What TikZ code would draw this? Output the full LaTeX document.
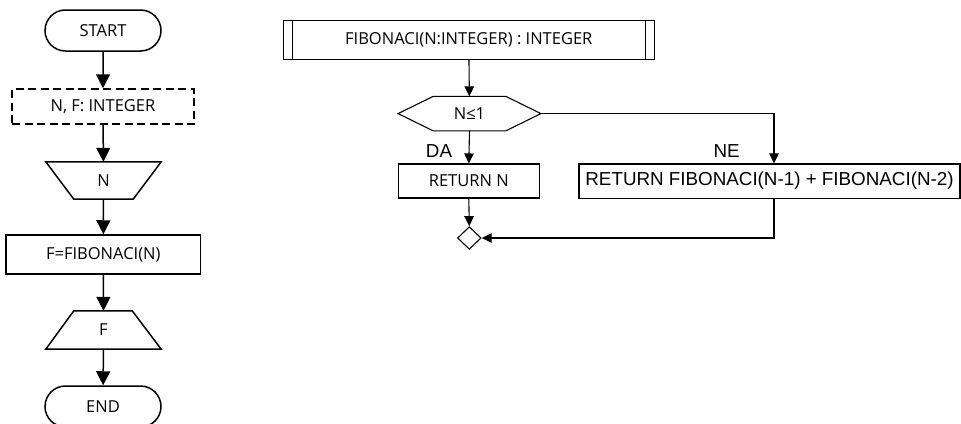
\documentclass[tikz,border=0pt]{standalone}
\usepackage{fontspec}
\setmainfont{Open Sans}
\newfontfamily\arialfont{Liberation Sans}
\usetikzlibrary{shapes.misc,shapes.geometric,arrows.meta,calc}

\begin{document}
\begin{tikzpicture}[x=1pt,y=-1pt,
  every node/.style={font=\fontsize{16.5}{18}\selectfont, inner sep=0pt},
  lline/.style={line width=1.5pt},
  rline/.style={line width=1.1pt},
  larrow/.style={lline, -{Triangle[length=14pt,width=14pt]}},
  rarrow/.style={rline, -{Triangle[length=10pt,width=9.5pt]}},
  terminal/.style={rounded rectangle, draw, lline, minimum width=116pt, minimum height=41pt},
  procbox/.style={rectangle, draw},
  ghost/.style={rectangle, draw=none},
  arial/.style={font=\arialfont\fontsize{18.8}{20}\selectfont},
]
\useasboundingbox (0,0) rectangle (961,423);

% ---- main program ----
\node[terminal] (start) at (103,30.5) {START};
\node[procbox, lline, dash pattern=on 8pt off 4.5pt, minimum width=182pt, minimum height=35pt] (decl) at (103,106.5) {N, F: INTEGER};
\node[ghost, minimum width=115pt, minimum height=37pt] (inN) at (103.5,180.5) {N};
\draw[lline] (inN.north west) -- (inN.north east) -- ([xshift=-28pt]inN.south east) -- ([xshift=28pt]inN.south west) -- cycle;
\node[procbox, lline, minimum width=194.7pt, minimum height=39pt] (call) at (103.3,254.5) {F=FIBONACI(N)};
\node[ghost, minimum width=115pt, minimum height=38pt] (outF) at (103.5,330) {F};
\draw[lline] ([xshift=28pt]outF.north west) -- ([xshift=-29pt]outF.north east) -- (outF.south east) -- (outF.south west) -- cycle;
\node[terminal] (stop) at (103,406.5) {END};

\draw[larrow] (start) -- (decl);
\draw[larrow] (decl) -- (inN);
\draw[larrow] (inN) -- (call);
\draw[larrow] (call) -- (outF);
\draw[larrow] (outF) -- (stop);

% ---- function FIBONACI ----
\node[procbox, rline, minimum width=371pt, minimum height=38.6pt] (sub) at (468.8,40) {FIBONACI(N:INTEGER) : INTEGER};
\draw[rline] ([xshift=9.4pt]sub.north west) -- ([xshift=9.4pt]sub.south west);
\draw[rline] ([xshift=-9.4pt]sub.north east) -- ([xshift=-9.4pt]sub.south east);

\node[ghost, minimum width=142.4pt, minimum height=34pt] (cond) at (469.5,113.6) {N≤1};
\draw[rline] (cond.west) -- ([xshift=35pt]cond.north west) -- ([xshift=-35pt]cond.north east) -- (cond.east) -- ([xshift=-35pt]cond.south east) -- ([xshift=35pt]cond.south west) -- cycle;

\node[procbox, rline, minimum width=141pt, minimum height=34pt] (retn) at (468.8,181) {RETURN N};
\node[procbox, rline, arial, minimum width=381pt, minimum height=34.3pt] (recur) at (769.5,181.1) {RETURN FIBONACI(N-1) + FIBONACI(N-2)};
\node[diamond, draw, rline, aspect=1.05, minimum width=23.7pt, minimum height=22.6pt] (merge) at (469.3,238) {};

\node[arial] (yes) at (439,150.7) {DA};
\node[arial] (no) at (726.7,150.7) {NE};

\draw[rarrow] (sub) -- (cond);
\draw[rarrow] (cond.south) -- (retn.north);
\draw[rarrow] (cond.east) -| ($(recur.north)+(4.5,0)$);
\draw[rarrow] (retn.south) -- (merge.north);
\draw[rarrow] ($(recur.south)+(4.5,0)$) |- (merge.east);
\end{tikzpicture}
\end{document}
